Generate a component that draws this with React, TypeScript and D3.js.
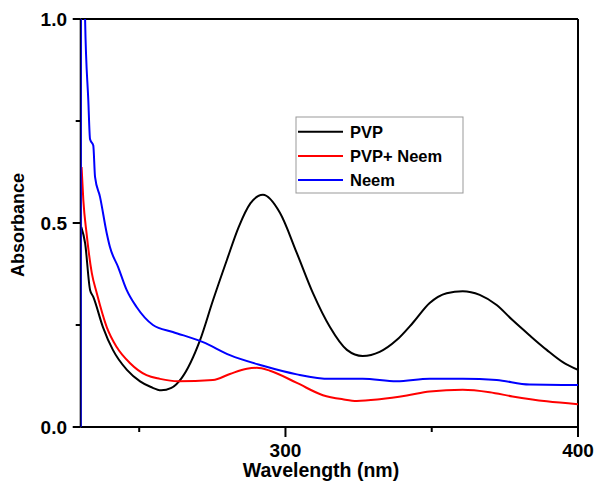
import React from "react";
import * as d3 from "d3";

const pvpWave = [230.2, 231.5, 233.2, 234.3, 237.6, 241, 245.8, 250.3, 254, 257.5, 261, 264.5, 270.8, 275.2, 280, 284, 288, 292.3, 298.1, 303.9, 309.4, 315.2, 321, 326.4, 332.2, 338, 343.5, 349.3, 355.1, 360.6, 366.4, 372.2, 377.6, 383.4, 389.3, 394.8, 400];
const pvpAbs = [0.49, 0.451, 0.336, 0.319, 0.245, 0.189, 0.14, 0.112, 0.098, 0.09, 0.096, 0.12, 0.213, 0.31, 0.41, 0.49, 0.548, 0.569, 0.525, 0.426, 0.328, 0.245, 0.189, 0.174, 0.184, 0.213, 0.255, 0.304, 0.328, 0.333, 0.324, 0.299, 0.262, 0.225, 0.189, 0.159, 0.14];

const mixWave = [230.3, 230.9, 232, 233.8, 235.5, 238.9, 242.3, 246.8, 252.5, 257.1, 263.2, 275.2, 281, 286.8, 290.2, 294.7, 303.9, 312.8, 319.6, 324.4, 332.2, 341.5, 349.3, 360.6, 369.8, 377.6, 389.3, 400];
const mixAbs = [0.637, 0.556, 0.475, 0.377, 0.328, 0.245, 0.196, 0.157, 0.127, 0.118, 0.112, 0.115, 0.13, 0.143, 0.145, 0.138, 0.108, 0.078, 0.068, 0.064, 0.068, 0.077, 0.087, 0.091, 0.085, 0.075, 0.063, 0.056];

const neemWave = [230, 230.1, 231.3, 231.5, 232.6, 233.2, 234.3, 234.9, 236.6, 238.9, 240, 242.8, 245.7, 249.1, 254.7, 261.5, 271.8, 281, 292.3, 303.9, 315.2, 326.4, 338, 349.3, 360.6, 372.2, 383.4, 400];
const neemAbs = [0, 1.1, 1.1, 1.0, 0.801, 0.705, 0.69, 0.613, 0.564, 0.475, 0.441, 0.392, 0.336, 0.294, 0.25, 0.233, 0.208, 0.176, 0.15, 0.129, 0.118, 0.118, 0.112, 0.118, 0.118, 0.115, 0.104, 0.103];

const seriesNames = ["PVP", "PVP+ Neem", "Neem"];
const seriesColors = ["#000000", "#ff0000", "#0000ff"];
const xMajorTicks = [300, 400];
const xMinorTicks = [250, 350];
const yMajorTicks = [0, 0.5, 1.0];
const yMinorTicks = [0.25, 0.75];

const W = 595, H = 482;
const L = 80.7, R = 578, T = 19, B = 427;
const FONT = "'Liberation Sans', Arial, Helvetica, sans-serif";

export default function App() {
  const x = d3.scaleLinear().domain([230, 400]).range([L, R]);
  const y = d3.scaleLinear().domain([0, 1]).range([B, T]);
  const line = d3.line<[number, number]>().x(d => x(d[0])).y(d => y(d[1])).curve(d3.curveMonotoneX);
  const series = [
    pvpWave.map((w, i) => [w, pvpAbs[i]] as [number, number]),
    mixWave.map((w, i) => [w, mixAbs[i]] as [number, number]),
    neemWave.map((w, i) => [w, neemAbs[i]] as [number, number]),
  ];
  const legX = 296, legY = 117, legW = 167, legH = 76;
  return (
    <svg width={W} height={H} style={{ position: "absolute", left: 0, top: 0, background: "#fff" }}>
      <defs>
        <clipPath id="plot"><rect x={L} y={T} width={R - L} height={B - T} /></clipPath>
      </defs>
      <rect width={W} height={H} fill="#fff" />
      <line x1={L} x2={R} y1={T} y2={T} stroke="#000" strokeWidth={2} />
      <line x1={R} x2={R} y1={T} y2={B} stroke="#000" strokeWidth={2} />
      <line x1={L} x2={R} y1={B} y2={B} stroke="#000" strokeWidth={2} />
      <line x1={L} x2={L} y1={T} y2={B} stroke="#000" strokeWidth={2} />
      {xMajorTicks.map(t => (
        <g key={"xm" + t}>
          <line x1={x(t)} x2={x(t)} y1={B} y2={B + 10} stroke="#000" strokeWidth={2} />
          <text x={x(t)} y={456.5} textAnchor="middle" fontFamily={FONT} fontWeight="bold" fontSize={19}>{t}</text>
        </g>
      ))}
      {xMinorTicks.map(t => (
        <line key={"xn" + t} x1={x(t)} x2={x(t)} y1={B} y2={B + 5} stroke="#000" strokeWidth={2} />
      ))}
      {yMajorTicks.map(t => (
        <g key={"ym" + t}>
          <line x1={L - 8} x2={L} y1={y(t)} y2={y(t)} stroke="#000" strokeWidth={2} />
          <text x={67} y={y(t) + 7} textAnchor="end" fontFamily={FONT} fontWeight="bold" fontSize={19}>{t.toFixed(1)}</text>
        </g>
      ))}
      {yMinorTicks.map(t => (
        <line key={"yn" + t} x1={L - 5} x2={L} y1={y(t)} y2={y(t)} stroke="#000" strokeWidth={2} />
      ))}
      <text x={321} y={476.5} textAnchor="middle" fontFamily={FONT} fontWeight="bold" fontSize={19.5}>Wavelength (nm)</text>
      <text transform={`translate(24, ${y(0.5) + 2}) rotate(-90)`} textAnchor="middle" fontFamily={FONT} fontWeight="bold" fontSize={18}>Absorbance</text>
      <g clipPath="url(#plot)">
        {[0, 1, 2].map(i => (
          <path key={i} d={line(series[i]) || ""} fill="none" stroke={seriesColors[i]} strokeWidth={2} strokeLinejoin="round" />
        ))}
      </g>
      <rect x={legX} y={legY} width={legW} height={legH} fill="#fff" stroke="#999" strokeWidth={1} />
      {seriesNames.map((n, i) => (
        <g key={n}>
          <line x1={legX + 2} x2={legX + 47} y1={legY + 14.7 + i * 24.2} y2={legY + 14.7 + i * 24.2} stroke={seriesColors[i]} strokeWidth={2} />
          <text x={legX + 54} y={legY + 14.7 + i * 24.2 + 6} fontFamily={FONT} fontWeight="bold" fontSize={16.5}>{n}</text>
        </g>
      ))}
    </svg>
  );
}
